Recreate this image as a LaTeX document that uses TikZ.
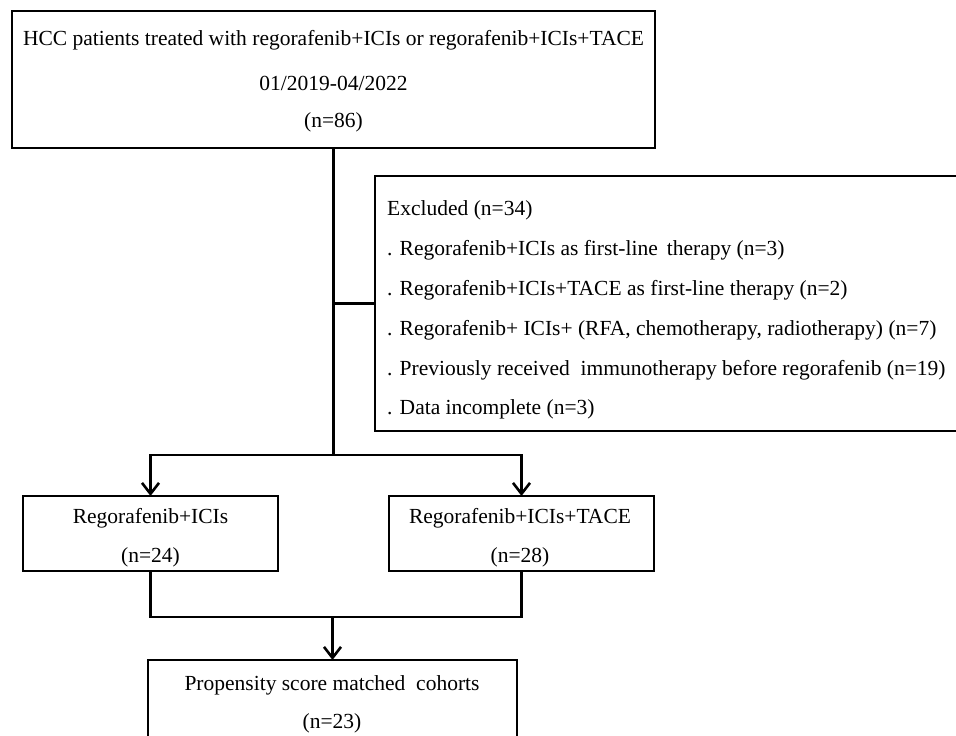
\documentclass[tikz,border=0pt]{standalone}
\usepackage{fontspec}
\setmainfont{Liberation Serif}
\usetikzlibrary{arrows.meta}
\begin{document}
\begin{tikzpicture}[x=1pt,y=-1pt,
  box/.style={draw,line width=2.6pt,minimum width=#1,inner sep=0pt,outer sep=0pt},
  txt/.style={inner sep=0pt,font=\fontsize{21.5}{24}\selectfont},
  conn/.style={line width=2.6pt},
  arr/.style={conn,-{Straight Barb[length=11pt,width=17pt,line width=2.6pt]}}]
\useasboundingbox (0,0) rectangle (956,736);
\clip (0,0) rectangle (956,736);
% boxes
\node[box=643pt,minimum height=137pt] (top) at (333.5,79.5) {};
\node[box=620pt,minimum height=255pt,anchor=west] (excl) at (375,303.5) {};
\node[box=255pt,minimum height=75pt] (left) at (150.5,533.5) {};
\node[box=265pt,minimum height=75pt] (right) at (521.5,533.5) {};
\node[box=369pt,minimum height=120pt,anchor=north] (bot) at (332.5,660) {};
% texts
\node[txt] (t1) at (333.5,40) {HCC patients treated with regorafenib+ICIs or regorafenib+ICIs+TACE};
\node[txt] (t2) at (333.5,83) {01/2019-04/2022};
\node[txt] (t3) at (333.5,122) {(n=86)};
\node[txt,anchor=west] (e0) at (387,210) {Excluded (n=34)};
\node[txt,anchor=west] (e1) at (387,250) {. Regorafenib+ICIs as first-line\, therapy (n=3)};
\node[txt,anchor=west] (e2) at (387,290) {. Regorafenib+ICIs+TACE as first-line therapy (n=2)};
\node[txt,anchor=west] (e3) at (387,330) {. Regorafenib+ ICIs+ (RFA, chemotherapy, radiotherapy) (n=7)};
\node[txt,anchor=west] (e4) at (387,370) {. Previously received\ \ immunotherapy before regorafenib (n=19)};
\node[txt,anchor=west] (e5) at (387,409) {. Data incomplete (n=3)};
\node[txt] (l1) at (150.5,518) {Regorafenib+ICIs};
\node[txt] (l2) at (150.5,557) {(n=24)};
\node[txt] (r1) at (520,518) {Regorafenib+ICIs+TACE};
\node[txt] (r2) at (520,557) {(n=28)};
\node[txt] (b1) at (332,685) {Propensity score matched\ \ cohorts};
\node[txt] (b2) at (332,723) {(n=23)};
% connectors
\coordinate (j1) at (333.5,455);
\coordinate (j2) at (332.5,617);
\draw[conn] (top.south) -- (j1);
\draw[conn] (excl.west) -- (excl.west -| top.south);
\draw[arr] (j1) -| (left.north);
\draw[arr] (j1) -| (right.north);
\draw[conn] (left.south) |- (j2) -| (right.south);
\draw[arr] (j2) -- (bot.north);
\end{tikzpicture}
\end{document}
